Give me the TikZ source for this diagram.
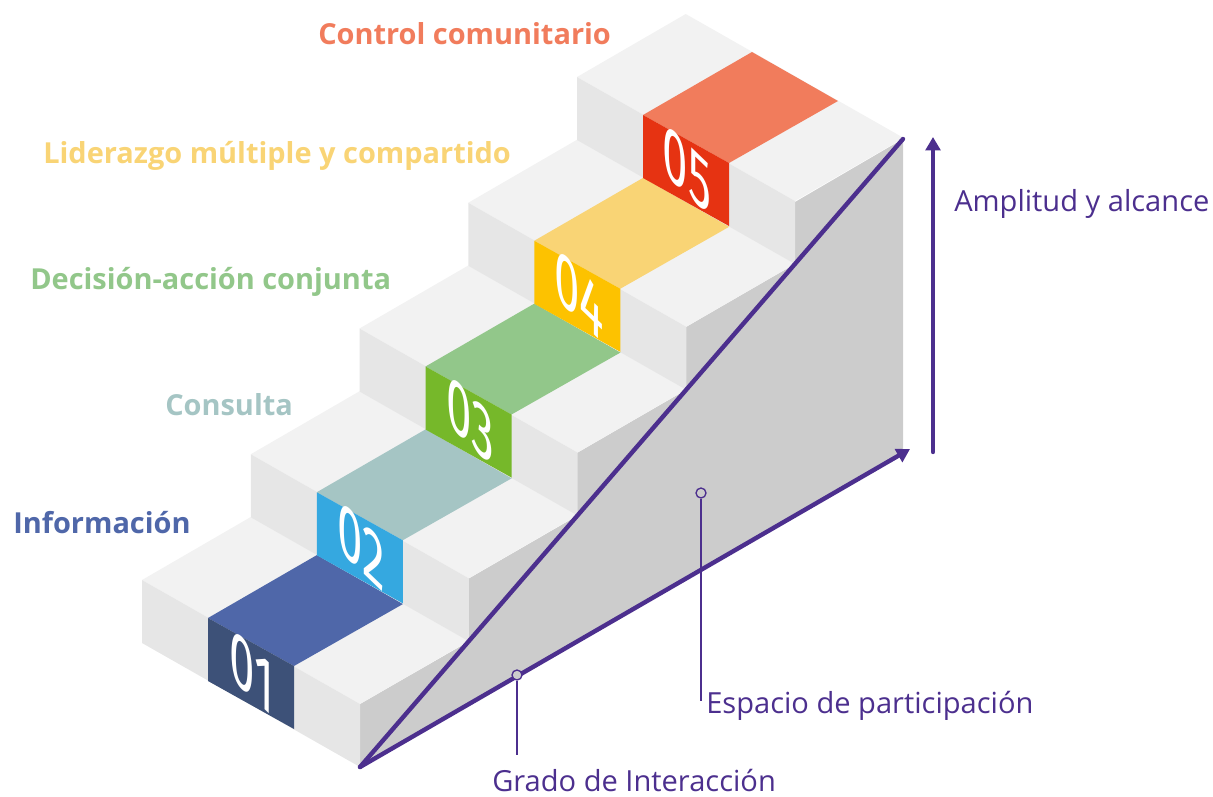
\documentclass[tikz,border=0pt]{standalone}
\usepackage{fontspec}
\setmainfont{Open Sans}
\newfontfamily\digitfont{Fira Sans}
\usetikzlibrary{positioning,arrows.meta}

\definecolor{lineviolet}{HTML}{4C2F8E}
\definecolor{topgrey}{HTML}{F2F2F2}
\definecolor{frontgrey}{HTML}{E6E6E6}
\definecolor{sidegrey}{HTML}{CCCCCC}
\definecolor{topA}{HTML}{4F67A9}
\definecolor{topB}{HTML}{A5C5C4}
\definecolor{topC}{HTML}{92C78A}
\definecolor{topD}{HTML}{F9D475}
\definecolor{topE}{HTML}{F17C5C}
\definecolor{frontA}{HTML}{3D5178}
\definecolor{frontB}{HTML}{35A8E0}
\definecolor{frontC}{HTML}{76B82A}
\definecolor{frontD}{HTML}{FDC200}
\definecolor{frontE}{HTML}{E63312}

\tikzset{
  level/.style={anchor=west,inner sep=0pt,font=\bfseries\fontsize{21.7}{25}\selectfont},
  note/.style={anchor=west,inner sep=0pt,text=lineviolet,font=\fontsize{21.8}{25}\selectfont},
  digit/.style={inner sep=0pt,text=white,xscale=0.6,yslant=-0.578,transform shape,font=\digitfont\fontsize{57}{60}\selectfont},
  axis/.style={draw=lineviolet,line width=3.3pt,line cap=round},
  leader/.style={draw=lineviolet,line width=1pt},
  ring/.style={circle,draw=lineviolet,fill=sidegrey,line width=1pt,inner sep=0pt,minimum size=7.5pt}
}

\begin{document}
\begin{tikzpicture}[x=0.75pt,y=-0.75pt]
  \useasboundingbox (0,0) rectangle (1213,796);
  % side of the stairs
  \fill[sidegrey] (360,767) -- (360,704) -- (468,642) -- (468,579) -- (577,516) -- (577,453)
    -- (686,390) -- (686,327) -- (795,264) -- (795,202) -- (903,139) -- (903,453) -- cycle;
  % steps
  \foreach \i/\n in {0/A,1/B,2/C,3/D,4/E} {
    \begin{scope}[shift={(108.75*\i,-125.75*\i)}]
      \fill[topgrey] (142,580) -- (250.75,517) -- (468.75,641) -- (360,704) -- cycle;
      \fill[frontgrey] (142,580) -- (360,704) -- (360,767) -- (142,643) -- cycle;
      \fill[top\n] (208,618) -- (317,555) -- (403,604) -- (294,666) -- cycle;
      \fill[front\n] (208,618) -- (294,666) -- (294,729) -- (208,681) -- cycle;
    \end{scope}
  }
  \node[digit] (D1) at (252,672) {01};
  \node[digit] (D2) at (361,546) {02};
  \node[digit] (D3) at (470,420) {03};
  \node[digit] (D4) at (579,295) {04};
  \node[digit] (D5) at (687,169) {05};

  \node[level,text=topE] (L5) at (318,34) {Control comunitario};
  \node[level,text=topD] (L4) at (43,156) {Liderazgo múltiple y compartido};
  \node[level,text=topC] (L3) at (30,282) {Decisión-acción conjunta};
  \node[level,text=topB] (L2) at (165,405) {Consulta};
  \node[level,text=topA] (L1) at (13,523) {Información};

  \node[note] (amplitud) at (954,204) {Amplitud y alcance};
  \node[note] (espacio) at (706,706) {Espacio de participación};
  \node[note] (grado) at (492,780) {Grado de Interacción};

  \coordinate (O) at (360,767);
  \coordinate (T) at (903,139);
  \coordinate (R) at (910,449);
  \coordinate (V0) at (933,452);
  \coordinate (V1) at (933,137);
  \draw[axis] (O) -- (T);
  \draw[axis,-{Triangle[length=10pt,width=11pt]}] (O) -- (R);
  \draw[axis,-{Triangle[length=10pt,width=11pt]}] (V0) -- (V1);

  \node[ring] (Re) at (701,493) {};
  \node[ring] (Rg) at (517,675) {};
  \coordinate (Ee) at (701,701);
  \coordinate (Eg) at (517,755);
  \draw[leader] (Re) -- (Ee);
  \draw[leader] (Rg) -- (Eg);
\end{tikzpicture}
\end{document}
